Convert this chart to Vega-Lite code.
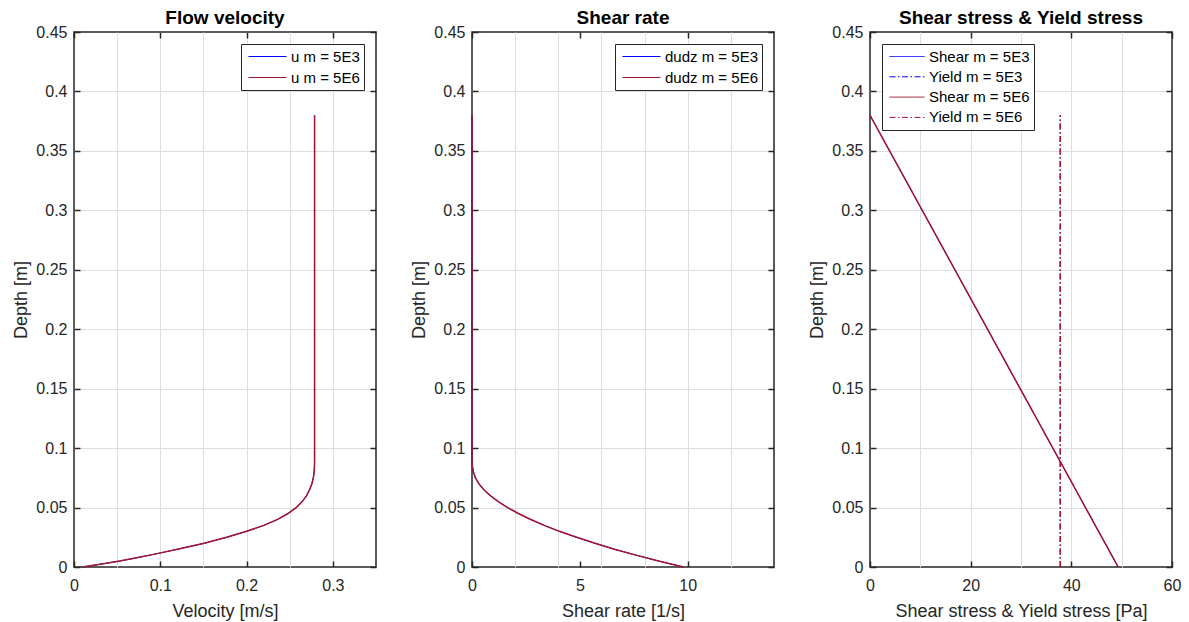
{
  "$schema": "https://vega.github.io/schema/vega-lite/v6.json",
  "background": "white",
  "padding": {"left": 12, "top": 8, "right": 4, "bottom": 0},
  "config": {
    "font": "Liberation Sans",
    "view": {"stroke": "#262626", "strokeWidth": 1.5},
    "axis": {
      "domain": false,
      "labelFont": "Liberation Sans",
      "labelFontSize": 16,
      "labelColor": "#262626",
      "labelFlush": false,
      "labelOverlap": false,
      "titleFont": "Liberation Sans",
      "titleFontSize": 18,
      "titleFontWeight": "normal",
      "titleColor": "#262626",
      "tickColor": "#262626",
      "tickWidth": 1.5,
      "gridColor": "#dedede",
      "gridWidth": 1,
      "gridOpacity": 1
    },
    "title": {"font": "Liberation Sans", "fontSize": 19, "fontWeight": "bold", "color": "#000000", "offset": -4},
    "legend": {
      "title": null,
      "offset": 12,
      "padding": 4,
      "cornerRadius": 0,
      "strokeColor": "#262626",
      "fillColor": "white",
      "clipHeight": 17,
      "rowPadding": 4,
      "symbolType": "stroke",
      "symbolSize": 1444,
      "symbolOffset": 3,
      "symbolStrokeWidth": 1,
      "labelOffset": 4,
      "labelFont": "Liberation Sans",
      "labelFontSize": 15,
      "labelColor": "#000000"
    }
  },
  "datasets": {
    "vel": [
      {"series": "u m = 5E3", "depth": 0, "u": 0.010},
      {"series": "u m = 5E3", "depth": 0.0025, "u": 0.032},
      {"series": "u m = 5E3", "depth": 0.005, "u": 0.053},
      {"series": "u m = 5E3", "depth": 0.0075, "u": 0.071},
      {"series": "u m = 5E3", "depth": 0.01, "u": 0.088},
      {"series": "u m = 5E3", "depth": 0.0125, "u": 0.1045},
      {"series": "u m = 5E3", "depth": 0.015, "u": 0.120},
      {"series": "u m = 5E3", "depth": 0.0175, "u": 0.1355},
      {"series": "u m = 5E3", "depth": 0.02, "u": 0.151},
      {"series": "u m = 5E3", "depth": 0.025, "u": 0.177},
      {"series": "u m = 5E3", "depth": 0.03, "u": 0.200},
      {"series": "u m = 5E3", "depth": 0.035, "u": 0.220},
      {"series": "u m = 5E3", "depth": 0.04, "u": 0.236},
      {"series": "u m = 5E3", "depth": 0.045, "u": 0.248},
      {"series": "u m = 5E3", "depth": 0.05, "u": 0.2575},
      {"series": "u m = 5E3", "depth": 0.055, "u": 0.2645},
      {"series": "u m = 5E3", "depth": 0.06, "u": 0.2695},
      {"series": "u m = 5E3", "depth": 0.065, "u": 0.2730},
      {"series": "u m = 5E3", "depth": 0.07, "u": 0.2757},
      {"series": "u m = 5E3", "depth": 0.075, "u": 0.2774},
      {"series": "u m = 5E3", "depth": 0.08, "u": 0.2783},
      {"series": "u m = 5E3", "depth": 0.085, "u": 0.2787},
      {"series": "u m = 5E3", "depth": 0.09, "u": 0.2788},
      {"series": "u m = 5E3", "depth": 0.38, "u": 0.2788},
      {"series": "u m = 5E6", "depth": 0, "u": 0.010},
      {"series": "u m = 5E6", "depth": 0.0025, "u": 0.032},
      {"series": "u m = 5E6", "depth": 0.005, "u": 0.053},
      {"series": "u m = 5E6", "depth": 0.0075, "u": 0.071},
      {"series": "u m = 5E6", "depth": 0.01, "u": 0.088},
      {"series": "u m = 5E6", "depth": 0.0125, "u": 0.1045},
      {"series": "u m = 5E6", "depth": 0.015, "u": 0.120},
      {"series": "u m = 5E6", "depth": 0.0175, "u": 0.1355},
      {"series": "u m = 5E6", "depth": 0.02, "u": 0.151},
      {"series": "u m = 5E6", "depth": 0.025, "u": 0.177},
      {"series": "u m = 5E6", "depth": 0.03, "u": 0.200},
      {"series": "u m = 5E6", "depth": 0.035, "u": 0.220},
      {"series": "u m = 5E6", "depth": 0.04, "u": 0.236},
      {"series": "u m = 5E6", "depth": 0.045, "u": 0.248},
      {"series": "u m = 5E6", "depth": 0.05, "u": 0.2575},
      {"series": "u m = 5E6", "depth": 0.055, "u": 0.2645},
      {"series": "u m = 5E6", "depth": 0.06, "u": 0.2695},
      {"series": "u m = 5E6", "depth": 0.065, "u": 0.2730},
      {"series": "u m = 5E6", "depth": 0.07, "u": 0.2757},
      {"series": "u m = 5E6", "depth": 0.075, "u": 0.2774},
      {"series": "u m = 5E6", "depth": 0.08, "u": 0.2783},
      {"series": "u m = 5E6", "depth": 0.085, "u": 0.2787},
      {"series": "u m = 5E6", "depth": 0.09, "u": 0.2788},
      {"series": "u m = 5E6", "depth": 0.38, "u": 0.2788}
    ],
    "rate": [
      {"series": "dudz m = 5E3", "depth": 0, "rate": 9.8},
      {"series": "dudz m = 5E3", "depth": 0.005, "rate": 8.65},
      {"series": "dudz m = 5E3", "depth": 0.01, "rate": 7.6},
      {"series": "dudz m = 5E3", "depth": 0.015, "rate": 6.6},
      {"series": "dudz m = 5E3", "depth": 0.02, "rate": 5.7},
      {"series": "dudz m = 5E3", "depth": 0.025, "rate": 4.85},
      {"series": "dudz m = 5E3", "depth": 0.03, "rate": 4.05},
      {"series": "dudz m = 5E3", "depth": 0.035, "rate": 3.35},
      {"series": "dudz m = 5E3", "depth": 0.04, "rate": 2.72},
      {"series": "dudz m = 5E3", "depth": 0.045, "rate": 2.15},
      {"series": "dudz m = 5E3", "depth": 0.05, "rate": 1.65},
      {"series": "dudz m = 5E3", "depth": 0.055, "rate": 1.22},
      {"series": "dudz m = 5E3", "depth": 0.06, "rate": 0.85},
      {"series": "dudz m = 5E3", "depth": 0.065, "rate": 0.55},
      {"series": "dudz m = 5E3", "depth": 0.07, "rate": 0.32},
      {"series": "dudz m = 5E3", "depth": 0.075, "rate": 0.16},
      {"series": "dudz m = 5E3", "depth": 0.08, "rate": 0.065},
      {"series": "dudz m = 5E3", "depth": 0.085, "rate": 0.015},
      {"series": "dudz m = 5E3", "depth": 0.0886, "rate": 0},
      {"series": "dudz m = 5E3", "depth": 0.38, "rate": 0},
      {"series": "dudz m = 5E6", "depth": 0, "rate": 9.8},
      {"series": "dudz m = 5E6", "depth": 0.005, "rate": 8.65},
      {"series": "dudz m = 5E6", "depth": 0.01, "rate": 7.6},
      {"series": "dudz m = 5E6", "depth": 0.015, "rate": 6.6},
      {"series": "dudz m = 5E6", "depth": 0.02, "rate": 5.7},
      {"series": "dudz m = 5E6", "depth": 0.025, "rate": 4.85},
      {"series": "dudz m = 5E6", "depth": 0.03, "rate": 4.05},
      {"series": "dudz m = 5E6", "depth": 0.035, "rate": 3.35},
      {"series": "dudz m = 5E6", "depth": 0.04, "rate": 2.72},
      {"series": "dudz m = 5E6", "depth": 0.045, "rate": 2.15},
      {"series": "dudz m = 5E6", "depth": 0.05, "rate": 1.65},
      {"series": "dudz m = 5E6", "depth": 0.055, "rate": 1.22},
      {"series": "dudz m = 5E6", "depth": 0.06, "rate": 0.85},
      {"series": "dudz m = 5E6", "depth": 0.065, "rate": 0.55},
      {"series": "dudz m = 5E6", "depth": 0.07, "rate": 0.32},
      {"series": "dudz m = 5E6", "depth": 0.075, "rate": 0.16},
      {"series": "dudz m = 5E6", "depth": 0.08, "rate": 0.065},
      {"series": "dudz m = 5E6", "depth": 0.085, "rate": 0.015},
      {"series": "dudz m = 5E6", "depth": 0.0886, "rate": 0},
      {"series": "dudz m = 5E6", "depth": 0.38, "rate": 0}
    ],
    "stress": [
      {"series": "Shear m = 5E3", "depth": 0, "stress": 49.3},
      {"series": "Shear m = 5E3", "depth": 0.38, "stress": 0},
      {"series": "Yield m = 5E3", "depth": 0, "stress": 37.8},
      {"series": "Yield m = 5E3", "depth": 0.38, "stress": 37.8},
      {"series": "Shear m = 5E6", "depth": 0, "stress": 49.3},
      {"series": "Shear m = 5E6", "depth": 0.38, "stress": 0},
      {"series": "Yield m = 5E6", "depth": 0, "stress": 37.8},
      {"series": "Yield m = 5E6", "depth": 0.38, "stress": 37.8}
    ]
  },
  "spacing": 96,
  "bounds": "flush",
  "resolve": {"scale": {"x": "independent", "y": "independent", "color": "independent", "strokeDash": "independent"}},
  "hconcat": [
    {
      "width": 302, "height": 535,
      "title": "Flow velocity",
      "data": {"name": "vel"},
      "resolve": {"axis": {"x": "independent", "y": "independent"}},
      "layer": [
        {
          "transform": [{"filter": "datum.series == 'u m = 5E3'"}],
          "mark": {"type": "line", "strokeWidth": 1},
          "encoding": {
            "x": {"field": "u", "type": "quantitative", "scale": {"domain": [0, 0.35], "nice": false, "zero": false},
                  "axis": {"orient": "bottom", "values": [0.05, 0.1, 0.15, 0.2, 0.25, 0.3], "grid": true, "ticks": false, "labels": false, "title": null}},
            "y": {"field": "depth", "type": "quantitative", "scale": {"domain": [0, 0.45], "nice": false, "zero": false},
                  "axis": {"orient": "left", "values": [0.05, 0.1, 0.15, 0.2, 0.25, 0.3, 0.35, 0.4], "grid": true, "ticks": false, "labels": false, "title": null}},
            "color": {"field": "series", "type": "nominal", "scale": {"domain": ["u m = 5E3", "u m = 5E6"], "range": ["#0000ff", "#a2142f"]},
                      "legend": {"orient": "top-right"}},
            "order": {"field": "depth", "type": "quantitative"}
          }
        },
        {
          "transform": [{"filter": "datum.series == 'u m = 5E6'"}],
          "mark": {"type": "line", "strokeWidth": 1.5},
          "encoding": {
            "x": {"field": "u", "type": "quantitative", "axis": null},
            "y": {"field": "depth", "type": "quantitative", "axis": null},
            "color": {"field": "series", "type": "nominal"},
            "order": {"field": "depth", "type": "quantitative"}
          }
        },
        {
          "mark": {"type": "line", "opacity": 0},
          "encoding": {
            "x": {"field": "u", "type": "quantitative",
                  "axis": {"orient": "bottom", "values": [0, 0.1, 0.2, 0.3], "format": ".2~f", "grid": false, "tickSize": -6, "labelPadding": 16, "titlePadding": 9, "title": "Velocity [m/s]"}},
            "y": {"field": "depth", "type": "quantitative",
                  "axis": {"orient": "left", "values": [0, 0.05, 0.1, 0.15, 0.2, 0.25, 0.3, 0.35, 0.4, 0.45], "format": ".2~f", "grid": false, "tickSize": -6, "labelPadding": 13, "titlePadding": 5, "title": "Depth [m]"}}
          }
        },
        {
          "mark": {"type": "line", "opacity": 0},
          "encoding": {
            "x": {"field": "u", "type": "quantitative",
                  "axis": {"orient": "top", "values": [0, 0.1, 0.2, 0.3], "grid": false, "tickSize": -6, "labels": false, "title": null}},
            "y": {"field": "depth", "type": "quantitative",
                  "axis": {"orient": "right", "values": [0, 0.05, 0.1, 0.15, 0.2, 0.25, 0.3, 0.35, 0.4, 0.45], "grid": false, "tickSize": -6, "labels": false, "title": null}}
          }
        }
      ]
    },
    {
      "width": 302, "height": 535,
      "title": "Shear rate",
      "data": {"name": "rate"},
      "resolve": {"axis": {"x": "independent", "y": "independent"}},
      "layer": [
        {
          "transform": [{"filter": "datum.series == 'dudz m = 5E3'"}],
          "mark": {"type": "line", "strokeWidth": 1},
          "encoding": {
            "x": {"field": "rate", "type": "quantitative", "scale": {"domain": [0, 14], "nice": false, "zero": false},
                  "axis": {"orient": "bottom", "values": [2, 4, 6, 8, 10, 12], "grid": true, "ticks": false, "labels": false, "title": null}},
            "y": {"field": "depth", "type": "quantitative", "scale": {"domain": [0, 0.45], "nice": false, "zero": false},
                  "axis": {"orient": "left", "values": [0.05, 0.1, 0.15, 0.2, 0.25, 0.3, 0.35, 0.4], "grid": true, "ticks": false, "labels": false, "title": null}},
            "color": {"field": "series", "type": "nominal", "scale": {"domain": ["dudz m = 5E3", "dudz m = 5E6"], "range": ["#0000ff", "#a2142f"]},
                      "legend": {"orient": "top-right"}},
            "order": {"field": "depth", "type": "quantitative"}
          }
        },
        {
          "transform": [{"filter": "datum.series == 'dudz m = 5E6'"}],
          "mark": {"type": "line", "strokeWidth": 1.5},
          "encoding": {
            "x": {"field": "rate", "type": "quantitative", "axis": null},
            "y": {"field": "depth", "type": "quantitative", "axis": null},
            "color": {"field": "series", "type": "nominal"},
            "order": {"field": "depth", "type": "quantitative"}
          }
        },
        {
          "mark": {"type": "line", "opacity": 0},
          "encoding": {
            "x": {"field": "rate", "type": "quantitative",
                  "axis": {"orient": "bottom", "values": [0, 5, 10], "format": ".2~f", "grid": false, "tickSize": -6, "labelPadding": 16, "titlePadding": 9, "title": "Shear rate [1/s]"}},
            "y": {"field": "depth", "type": "quantitative",
                  "axis": {"orient": "left", "values": [0, 0.05, 0.1, 0.15, 0.2, 0.25, 0.3, 0.35, 0.4, 0.45], "format": ".2~f", "grid": false, "tickSize": -6, "labelPadding": 13, "titlePadding": 5, "title": "Depth [m]"}}
          }
        },
        {
          "mark": {"type": "line", "opacity": 0},
          "encoding": {
            "x": {"field": "rate", "type": "quantitative",
                  "axis": {"orient": "top", "values": [0, 5, 10], "grid": false, "tickSize": -6, "labels": false, "title": null}},
            "y": {"field": "depth", "type": "quantitative",
                  "axis": {"orient": "right", "values": [0, 0.05, 0.1, 0.15, 0.2, 0.25, 0.3, 0.35, 0.4, 0.45], "grid": false, "tickSize": -6, "labels": false, "title": null}}
          }
        }
      ]
    },
    {
      "width": 302, "height": 535,
      "title": "Shear stress & Yield stress",
      "data": {"name": "stress"},
      "resolve": {"axis": {"x": "independent", "y": "independent"}},
      "layer": [
        {
          "transform": [{"filter": "datum.series == 'Shear m = 5E3' || datum.series == 'Yield m = 5E3'"}],
          "mark": {"type": "line", "strokeWidth": 1},
          "encoding": {
            "x": {"field": "stress", "type": "quantitative", "scale": {"domain": [0, 60], "nice": false, "zero": false},
                  "axis": {"orient": "bottom", "values": [10, 20, 30, 40, 50], "grid": true, "ticks": false, "labels": false, "title": null}},
            "y": {"field": "depth", "type": "quantitative", "scale": {"domain": [0, 0.45], "nice": false, "zero": false},
                  "axis": {"orient": "left", "values": [0.05, 0.1, 0.15, 0.2, 0.25, 0.3, 0.35, 0.4], "grid": true, "ticks": false, "labels": false, "title": null}},
            "color": {"field": "series", "type": "nominal",
                      "scale": {"domain": ["Shear m = 5E3", "Yield m = 5E3", "Shear m = 5E6", "Yield m = 5E6"], "range": ["#0000ff", "#0000ff", "#a2142f", "#a2142f"]},
                      "legend": {"orient": "top-left", "symbolSize": 1225, "rowPadding": 3.3}},
            "strokeDash": {"field": "series", "type": "nominal",
                      "scale": {"domain": ["Shear m = 5E3", "Yield m = 5E3", "Shear m = 5E6", "Yield m = 5E6"], "range": [[1, 0], [6, 2.5, 1.5, 2.5], [1, 0], [6, 2.5, 1.5, 2.5]]},
                      "legend": {"orient": "top-left", "symbolSize": 1225, "rowPadding": 3.3}},
            "order": {"field": "depth", "type": "quantitative"}
          }
        },
        {
          "transform": [{"filter": "datum.series == 'Shear m = 5E6' || datum.series == 'Yield m = 5E6'"}],
          "mark": {"type": "line", "strokeWidth": 1.5},
          "encoding": {
            "x": {"field": "stress", "type": "quantitative", "axis": null},
            "y": {"field": "depth", "type": "quantitative", "axis": null},
            "color": {"field": "series", "type": "nominal"},
            "strokeDash": {"field": "series", "type": "nominal"},
            "order": {"field": "depth", "type": "quantitative"}
          }
        },
        {
          "mark": {"type": "line", "opacity": 0},
          "encoding": {
            "x": {"field": "stress", "type": "quantitative",
                  "axis": {"orient": "bottom", "values": [0, 20, 40, 60], "format": ".2~f", "grid": false, "tickSize": -6, "labelPadding": 16, "titlePadding": 9, "title": "Shear stress & Yield stress [Pa]"}},
            "y": {"field": "depth", "type": "quantitative",
                  "axis": {"orient": "left", "values": [0, 0.05, 0.1, 0.15, 0.2, 0.25, 0.3, 0.35, 0.4, 0.45], "format": ".2~f", "grid": false, "tickSize": -6, "labelPadding": 13, "titlePadding": 5, "title": "Depth [m]"}}
          }
        },
        {
          "mark": {"type": "line", "opacity": 0},
          "encoding": {
            "x": {"field": "stress", "type": "quantitative",
                  "axis": {"orient": "top", "values": [0, 20, 40, 60], "grid": false, "tickSize": -6, "labels": false, "title": null}},
            "y": {"field": "depth", "type": "quantitative",
                  "axis": {"orient": "right", "values": [0, 0.05, 0.1, 0.15, 0.2, 0.25, 0.3, 0.35, 0.4, 0.45], "grid": false, "tickSize": -6, "labels": false, "title": null}}
          }
        }
      ]
    }
  ]
}
